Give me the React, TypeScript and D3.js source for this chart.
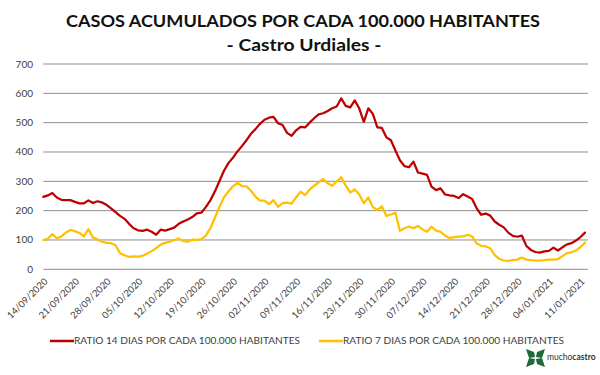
import React from "react";
import * as d3 from "d3";

const TITLE = "CASOS ACUMULADOS POR CADA 100.000 HABITANTES";
const SUBTITLE = "- Castro Urdiales -";
const TICK_LABELS = [
  "14/09/2020", "21/09/2020", "28/09/2020", "05/10/2020", "12/10/2020", "19/10/2020",
  "26/10/2020", "02/11/2020", "09/11/2020", "16/11/2020", "23/11/2020", "30/11/2020",
  "07/12/2020", "14/12/2020", "21/12/2020", "28/12/2020", "04/01/2021", "11/01/2021",
];
const Y_TICKS = [0, 100, 200, 300, 400, 500, 600, 700];
const SERIES_NAMES = [
  "RATIO 14 DIAS POR CADA 100.000 HABITANTES",
  "RATIO 7 DIAS POR CADA 100.000 HABITANTES",
];
const RATIO_14 = [
  247, 252, 260, 245, 237, 236, 236, 230, 225, 225,
  235, 226, 232, 228, 220, 208, 195, 182, 172, 155,
  140, 133, 131, 135, 128, 118, 135, 132, 137, 142,
  155, 163, 170, 178, 191, 193, 212, 235, 265, 300,
  335, 362, 380, 402, 420, 440, 462, 478, 496, 510,
  517, 520, 498, 492, 465, 455, 474, 486, 484, 500,
  515, 528, 532, 540, 549, 555, 583, 557, 552, 576,
  548, 503, 549, 530, 484, 482, 450, 440, 405, 372,
  352, 348, 367, 330, 326, 322, 282, 270, 276, 255,
  252, 250, 243, 256, 248, 240, 208, 186, 190, 183,
  163, 152, 143, 125, 114, 111, 115, 80, 66, 59,
  57, 61, 63, 74, 64, 75, 85, 89, 98, 110,
  125,
];
const RATIO_7 = [
  100, 104, 120, 106, 112, 125, 134, 130, 124, 112,
  137, 108, 102, 94, 90, 89, 82, 55, 48, 42,
  44, 43, 46, 53, 62, 72, 84, 90, 94, 100,
  105, 96, 94, 101, 100, 103, 115, 140, 175, 212,
  245, 265, 283, 295, 284, 283, 268, 248, 234, 234,
  222, 236, 213, 226, 227, 224, 245, 265, 253, 272,
  285, 296, 308, 293, 285, 300, 314, 285, 262, 272,
  255, 225, 245, 212, 202, 215, 182, 187, 193, 131,
  140, 146, 140, 148, 136, 128, 145, 132, 128, 115,
  106, 110, 111, 112, 118, 112, 88, 80, 78, 72,
  48, 36, 30, 29, 31, 33, 40, 33, 31, 30,
  30, 31, 33, 33, 35, 45, 55, 58, 64, 76,
  91,
];
const COLORS = ["#C00000", "#FFC000"];

const FONT = "Lato, 'Open Sans', sans-serif";

export default function App() {
  const W = 600, H = 375;
  const left = 43.3, right = 588, top = 64, bottom = 269.3;
  const n = RATIO_14.length;
  const x = d3.scaleLinear().domain([0, n - 1]).range([left, 585]);
  const y = d3.scaleLinear().domain([0, 700]).range([bottom, top]);
  const line = d3.line<number>().x((_, i) => x(i)).y((v) => y(v));
  const series = [RATIO_14, RATIO_7];

  return (
    <svg width={W} height={H} style={{ position: "absolute", left: 0, top: 0, background: "#fff" }}>
      <rect width={W} height={H} fill="#fff" />
      <text x={303} y={27} textAnchor="middle" fontFamily={FONT} fontWeight="bold" fontSize={17.5} fill="#111" textLength={474} lengthAdjust="spacingAndGlyphs">{TITLE}</text>
      <text x={304} y={51} textAnchor="middle" fontFamily={FONT} fontWeight="bold" fontSize={17.5} fill="#111" textLength={155} lengthAdjust="spacingAndGlyphs">{SUBTITLE}</text>

      {Y_TICKS.map((t) => (
        <g key={t}>
          <line x1={left} x2={right} y1={y(t)} y2={y(t)} stroke="#8c8c8c" strokeWidth={1} />
          <text x={33} y={y(t)} dy="0.35em" textAnchor="end" fontFamily={FONT} fontSize={10} fill="#404040">{t}</text>
        </g>
      ))}

      {TICK_LABELS.map((lab, i) => {
        const px = x(i * 7);
        return (
          <text key={lab} transform={`translate(${px + 5},${282}) rotate(-45)`} textAnchor="end" fontFamily={FONT} fontSize={9.5} fill="#404040">{lab}</text>
        );
      })}

      {series.map((s, k) => (
        <path key={k} d={line(s) || ""} fill="none" stroke={COLORS[k]} strokeWidth={2.25} strokeLinejoin="round" strokeLinecap="round" />
      ))}

      <g fontFamily={FONT} fontSize={9.5} fill="#404040">
        <line x1={50} x2={74} y1={341} y2={341} stroke={COLORS[0]} strokeWidth={2.5} />
        <text x={74} y={341} dy="0.35em" textLength={226} lengthAdjust="spacingAndGlyphs">{SERIES_NAMES[0]}</text>
        <line x1={319} x2={343} y1={341} y2={341} stroke={COLORS[1]} strokeWidth={2.5} />
        <text x={343} y={341} dy="0.35em" textLength={221} lengthAdjust="spacingAndGlyphs">{SERIES_NAMES[1]}</text>
      </g>

      <g transform="translate(526,349)" fill="#1d6b3a">
        <path d="M0,0 L8,3 L9,8 L3,9 Z" />
        <path d="M19,0 L11,3 L10,8 L16,9 Z" />
        <path d="M0,18 L8,15 L9,10 L3,9 Z" />
        <path d="M19,18 L11,15 L10,10 L16,9 Z" />
      </g>
      <text x={547} y={360} fontFamily={FONT} fontSize={8.5} fill="#333">
        mucho<tspan fontWeight="bold">castro</tspan>
      </text>
    </svg>
  );
}
